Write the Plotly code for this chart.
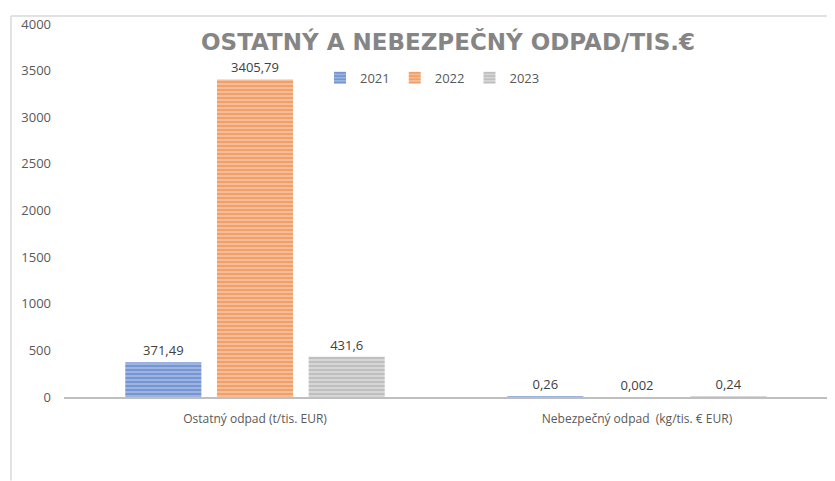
import plotly.graph_objects as go

categories = ["Ostatný odpad (t/tis. EUR)", "Nebezpečný odpad  (kg/tis. € EUR)"]
years = ["2021", "2022", "2023"]
values = {
    "2021": [371.49, 0.26],
    "2022": [3405.79, 0.002],
    "2023": [431.6, 0.24],
}
labels = {
    "2021": ["371,49", "0,26"],
    "2022": ["3405,79", "0,002"],
    "2023": ["431,6", "0,24"],
}
colors = {"2021": ("#4472C4", "#9DB4E0"), "2022": ("#ED7D31", "#F6BE98"), "2023": ("#A5A5A5", "#D6D6D6")}
y_ticks = [0, 500, 1000, 1500, 2000, 2500, 3000, 3500, 4000]

fig = go.Figure()
for yr in years:
    fg, bg = colors[yr]
    fig.add_trace(go.Bar(
        name=yr, x=categories, y=values[yr], text=labels[yr],
        textposition="outside", cliponaxis=False,
        textfont=dict(family="Open Sans, Noto Sans, sans-serif", size=13, color="#404040"),
        marker=dict(color=bg, line=dict(width=0),
                    pattern=dict(shape="-", fgcolor=fg, bgcolor=bg, size=4, solidity=0.45, fillmode="overlay")),
    ))

# the page body adds an 8px offset; work in page coordinates and subtract it
OFF = 8
W, H = 835 - OFF, 481 - OFF
L = 64 - OFF
T = 22 - OFF
R = W - (828 - OFF)
B = H - (397 - OFF)
pw, ph = W - L - R, H - T - B


def px(x):
    return (x - OFF - L) / pw


def py(y):
    return 1 - (y - OFF - T) / ph


fig.update_layout(
    width=W, height=H,
    margin=dict(l=L, r=R, t=T, b=B),
    paper_bgcolor="white", plot_bgcolor="white",
    barmode="group", bargap=0.28, bargroupgap=0.17,
    title=dict(text="OSTATNÝ A NEBEZPEČNÝ ODPAD/TIS.€", x=px(448), xref="paper", xanchor="center",
               y=py(40), yref="paper", yanchor="middle",
               font=dict(family="DejaVu Sans, sans-serif", size=23, color="#858585", weight="bold")),
    legend=dict(orientation="h", x=px(320), y=py(76), xanchor="left", yanchor="middle",
                font=dict(family="Open Sans, Noto Sans, sans-serif", size=13, color="#595959"),
                bgcolor="rgba(0,0,0,0)", itemwidth=30, tracegroupgap=0),
    font=dict(family="Open Sans, Noto Sans, sans-serif", color="#595959"),
    shapes=[
        dict(type="line", xref="paper", yref="paper", x0=px(11), x1=px(835), y0=py(14), y1=py(14),
             line=dict(color="#D9D9D9", width=1.5)),
        dict(type="line", xref="paper", yref="paper", x0=px(11), x1=px(11), y0=py(481), y1=py(14),
             line=dict(color="#D9D9D9", width=1.5)),
    ],
)
fig.update_xaxes(showline=True, linecolor="#BFBFBF", linewidth=1.5, showgrid=False, ticks="",
                 tickfont=dict(size=12, color="#595959"), ticklabelstandoff=10)
fig.update_yaxes(range=[0, 4000], tickvals=y_ticks, showgrid=False, zeroline=False, showline=False,
                 tickfont=dict(size=13, color="#595959"), ticklabelstandoff=12)

fig.write_html("out.html")
